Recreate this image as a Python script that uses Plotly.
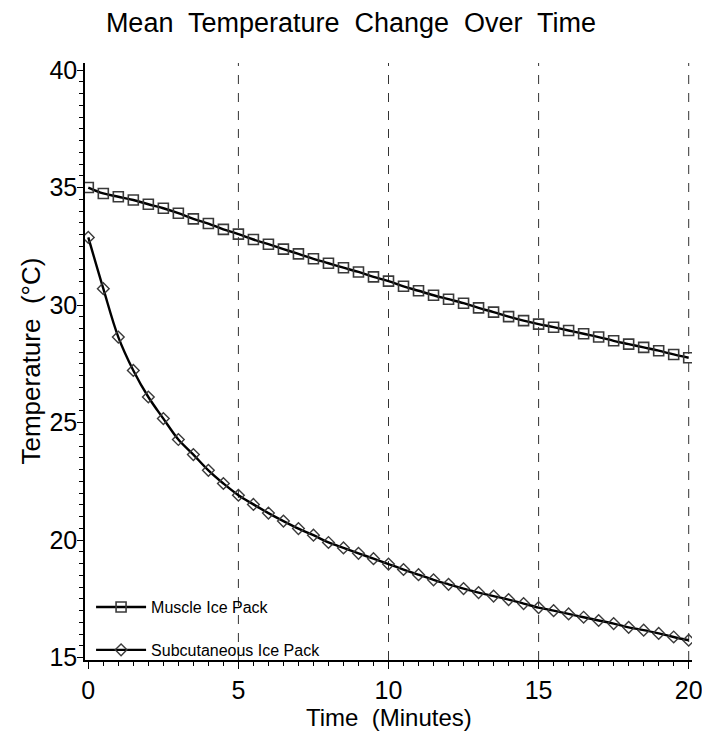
import plotly.graph_objects as go

# Time points (minutes), sampled every half minute
time_min = [i * 0.5 for i in range(41)]

muscle_temp = [35.0, 34.75, 34.61, 34.47, 34.29, 34.12, 33.91, 33.67, 33.47, 33.22,
               33.02, 32.79, 32.59, 32.38, 32.18, 31.97, 31.78, 31.59, 31.41, 31.2,
               31.02, 30.8, 30.61, 30.42, 30.25, 30.08, 29.88, 29.7, 29.51, 29.34,
               29.19, 29.06, 28.92, 28.78, 28.64, 28.48, 28.34, 28.2, 28.06, 27.9,
               27.76]

subcut_temp = [32.88, 30.7, 28.64, 27.22, 26.09, 25.17, 24.28, 23.64, 22.97, 22.41,
               21.91, 21.52, 21.15, 20.81, 20.49, 20.21, 19.9, 19.67, 19.44, 19.21,
               18.98, 18.75, 18.53, 18.31, 18.12, 17.94, 17.77, 17.62, 17.47, 17.3,
               17.13, 17.0, 16.86, 16.72, 16.58, 16.45, 16.29, 16.17, 16.03, 15.88,
               15.74]

x_ticks = [0, 5, 10, 15, 20]
y_ticks = [15, 20, 25, 30, 35, 40]
# reference lines drawn at every major time tick except the origin
x_gridlines = [5, 10, 15, 20]

FONT = "Liberation Sans, Arial, sans-serif"

fig = go.Figure()

fig.add_trace(go.Scatter(
    x=time_min, y=muscle_temp, name="Muscle Ice Pack",
    mode="lines+markers", legendgroup="a",
    line=dict(color="black", width=2.4, shape="spline"),
    marker=dict(symbol="square-open", size=10, color="#3a3a3a",
                line=dict(width=1.6, color="#3a3a3a")),
))

fig.add_trace(go.Scatter(
    x=time_min, y=subcut_temp, name="Subcutaneous Ice Pack",
    mode="lines+markers", legendgroup="b",
    line=dict(color="black", width=2.4, shape="spline"),
    marker=dict(symbol="diamond-open", size=9, color="#3a3a3a",
                line=dict(width=1.4, color="#3a3a3a")),
))

for gx in x_gridlines:
    fig.add_vline(x=gx, line=dict(color="#333333", width=1, dash="dash"), layer="below")

# axis titles placed as paper-anchored annotations
fig.add_annotation(text="Time  (Minutes)", xref="paper", yref="paper",
                   x=0.5, y=-0.097, xanchor="center", yanchor="middle",
                   showarrow=False, font=dict(size=24, family=FONT, color="black"))
fig.add_annotation(text="Temperature  (°C)", xref="paper", yref="paper",
                   x=-0.0906, y=0.5, xanchor="center", yanchor="middle",
                   textangle=-90, showarrow=False,
                   font=dict(size=26, family=FONT, color="black"))

fig.update_layout(
    width=702, height=744,
    margin=dict(l=85, r=10, t=63, b=84),
    paper_bgcolor="white", plot_bgcolor="white",
    font=dict(family=FONT, color="black"),
    title=dict(text="Mean  Temperature  Change  Over  Time",
               x=0.5, xanchor="center", y=0.97, yanchor="middle",
               font=dict(size=27, family=FONT, color="black")),
    showlegend=True,
    legend=dict(x=0.01, y=-0.012, xanchor="left", yanchor="bottom",
                bgcolor="rgba(0,0,0,0)", font=dict(size=16, family=FONT),
                tracegroupgap=19, itemwidth=50),
)

fig.update_xaxes(
    range=[-0.11, 20.11], automargin=False,
    tickvals=x_ticks, ticktext=[str(v) for v in x_ticks],
    tickfont=dict(size=25, family=FONT), ticklabeloverflow="allow",
    showline=True, linecolor="black", linewidth=1.5,
    ticks="outside", ticklen=7, tickwidth=1.3, tickcolor="black",
    minor=dict(dtick=0.5, ticks="outside", ticklen=4, tickwidth=1, tickcolor="black",
               showgrid=False),
    showgrid=False, zeroline=False, mirror=False,
)

fig.update_yaxes(
    range=[14.9, 40.3], automargin=False,
    tickvals=y_ticks, ticktext=[str(v) for v in y_ticks],
    tickfont=dict(size=25, family=FONT), ticklabeloverflow="allow",
    ticklabelstandoff=-5,
    showline=True, linecolor="black", linewidth=1.5,
    ticks="outside", ticklen=6, tickwidth=1.3, tickcolor="black",
    minor=dict(dtick=0.5, ticks="outside", ticklen=4, tickwidth=1, tickcolor="black",
               showgrid=False),
    showgrid=False, zeroline=False, mirror=False,
)

fig.write_html("out.html")
